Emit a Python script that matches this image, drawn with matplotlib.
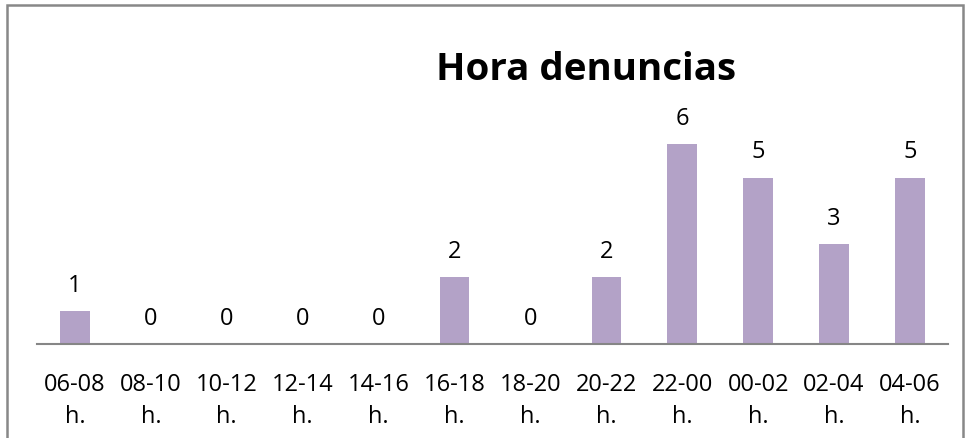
import matplotlib
matplotlib.use("Agg")
import matplotlib.pyplot as plt
from matplotlib.patches import Rectangle

categories = ["06-08\nh.", "08-10\nh.", "10-12\nh.", "12-14\nh.", "14-16\nh.", "16-18\nh.",
              "18-20\nh.", "20-22\nh.", "22-00\nh.", "00-02\nh.", "02-04\nh.", "04-06\nh."]
values = [1, 0, 0, 0, 0, 2, 0, 2, 6, 5, 3, 5]
title = "Hora denuncias"

W, H = 966, 439
fig = plt.figure(figsize=(W/100, H/100), dpi=100)
plt.rcParams['font.family'] = ['Open Sans', 'DejaVu Sans']

x0, x1 = 37, 948
yb = 345
unit = 33.3
ymax = 7
ytop = yb - unit*ymax
ax = fig.add_axes([x0/W, 1-yb/H, (x1-x0)/W, (yb-ytop)/H])

xs = range(len(values))
ax.bar(xs, values, width=0.39, color="#B3A2C7")
ax.set_xlim(-0.5, len(values)-0.5)
ax.set_ylim(0, ymax)
for s in ["top", "right", "left"]:
    ax.spines[s].set_visible(False)
ax.spines["bottom"].set_color("#868686")
ax.spines["bottom"].set_linewidth(1.5)
ax.set_yticks([])
ax.set_xticks(list(xs))
ax.set_xticklabels(categories, fontsize=17, linespacing=1.45)
ax.tick_params(axis="x", length=0, pad=20)

for x, v in zip(xs, values):
    ax.annotate(str(v), (x, v), xytext=(0, 14), textcoords="offset pixels",
                ha="center", va="bottom", fontsize=17, clip_on=False)

fig.text(586/W, 1-80/H, title, fontsize=27.7, fontweight="bold", ha="center", va="baseline")

fig.add_artist(Rectangle((7/W, -0.05), (963-7)/W, 1-6/H+0.05, transform=fig.transFigure,
                         fill=False, edgecolor="#888888", linewidth=1.8))

fig.savefig("out.png", dpi=100)
